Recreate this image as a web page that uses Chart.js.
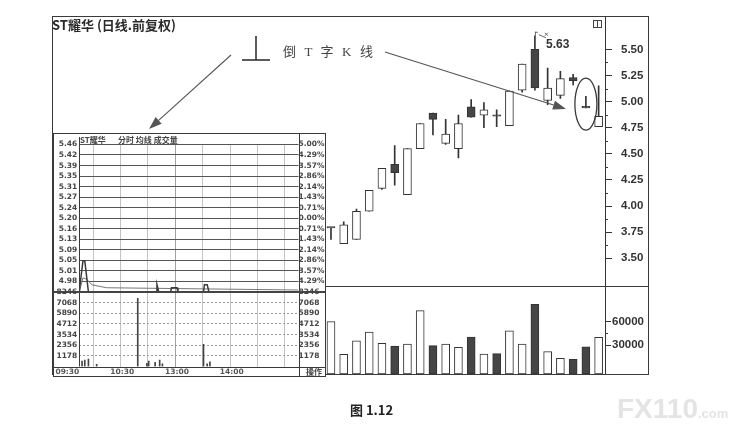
<!DOCTYPE html>
<html><head><meta charset="utf-8">
<script src="https://cdn.jsdelivr.net/npm/chart.js@4/dist/chart.umd.min.js"></script>
<style>
html,body{margin:0;padding:0;background:#fff;}
#wrap{position:relative;width:742px;height:432px;overflow:hidden;background:#fff;}
#main{position:absolute;left:0;top:0;}
#inset{position:absolute;left:53px;top:133px;background:#fff;}
.t{position:absolute;white-space:nowrap;color:#333;z-index:5;}
</style></head><body>
<div id="wrap">
<canvas id="main" width="742" height="432"></canvas>
<canvas id="inset" width="273" height="244"></canvas>
<div class="t" style="left:52px;top:17px;font:bold 13px/16px 'Noto Sans CJK SC';color:#2a2a2a;">ST耀华 (日线.前复权)</div>
<div class="t" style="left:283px;top:43px;font:13px/17px 'Liberation Serif','Noto Sans CJK SC';letter-spacing:2.6px;color:#444;">倒 T 字 K 线</div>
<div class="t" style="left:546px;top:36px;font:bold 12px/16px 'Liberation Sans';color:#333;">5.63</div>
<div class="t" style="left:80px;top:134px;font:bold 8px/11px 'Noto Sans CJK SC';color:#444;">ST耀华</div>
<div class="t" style="left:118px;top:134px;font:bold 8px/11px 'Noto Sans CJK SC';color:#444;">分时 均线 成交量</div>
<div class="t" style="left:306px;top:366px;font:bold 8px/11px 'Noto Sans CJK SC';color:#444;">操作</div>
<div class="t" style="left:350px;top:402px;font:bold 13px/16px 'Noto Sans CJK SC','Liberation Sans';color:#222;">图 1.12</div>
<div class="t" style="left:617px;top:394px;font:bold 28px/30px 'Liberation Sans';color:#e4e4e4;">FX110<span style="font-size:13px;">.com</span></div>
</div>
<script>
// ---------- main daily chart data ----------
const DAYS   = ['D1','D2','D3','D4','D5','D6','D7','D8','D9','D10','D11','D12','D13','D14','D15','D16','D17','D18','D19','D20','D21','D22'];
const OPEN   = [3.79,3.64,3.68,3.95,4.17,4.40,4.11,4.55,4.89,4.60,4.55,4.95,4.87,4.87,4.77,5.11,5.50,5.01,5.06,5.23,4.94,4.76];
const CLOSE  = [3.79,3.82,3.95,4.15,4.36,4.32,4.55,4.79,4.83,4.69,4.79,4.85,4.92,4.86,5.10,5.36,5.13,5.13,5.22,5.20,4.94,4.86];
const HIGH   = [3.79,3.85,3.97,4.15,4.36,4.58,4.55,4.79,4.89,4.83,4.87,5.02,4.99,4.92,5.10,5.36,5.63,5.32,5.29,5.26,5.05,5.15];
const LOW    = [3.68,3.64,3.68,3.95,4.16,4.20,4.11,4.55,4.68,4.59,4.46,4.85,4.75,4.76,4.77,5.09,5.11,4.97,5.03,5.16,4.94,4.76];
const VOLUME = [60000,18000,35500,46700,32200,28700,31300,74200,29100,31300,27000,40300,18400,18800,48400,31300,82400,21400,12900,11600,27800,39900];
const PRICE_TICKS = [3.50,3.75,4.00,4.25,4.50,4.75,5.00,5.25,5.50];
const PRICE_MINOR = [3.625,3.875,4.125,4.375,4.625,4.875,5.125,5.375];
const VOL_TICKS = [30000,60000];
const VOL_MINOR = [45000];
const SIGNAL_DAY = 20;   // 倒T字K线

// ---------- intraday inset data ----------
const PREV_CLOSE = 5.20;
const PCT_STEPS = [5.00,4.29,3.57,2.86,2.14,1.43,0.71,0.00,-0.71,-1.43,-2.14,-2.86,-3.57,-4.29];
const PRICE_LABELS = ['5.46','5.42','5.39','5.35','5.31','5.27','5.24','5.20','5.16','5.13','5.09','5.05','5.01','4.98'];
const PCT_LABELS = ['5.00%','4.29%','3.57%','2.86%','2.14%','1.43%','0.71%','0.00%','0.71%','1.43%','2.14%','2.86%','3.57%','4.29%'];
const IVOL_TICKS = [8246,7068,5890,4712,3534,2356,1178];
const TIME_GRID = [0,30,60,90,120,150,180,210,240];
const TIME_TICKS = [0,60,120,180];
const TIME_LABELS = ['09:30','10:30','13:00','14:00'];
const LINE_MINUTE = [0,1,4,6,10,84,85,87,100,101,107,108,136,137,140,142,240];
const LINE_PRICE  = [4.94,4.97,5.05,5.05,4.94,4.94,4.966,4.94,4.94,4.955,4.955,4.94,4.94,4.966,4.966,4.94,4.94];
const AVG_MINUTE  = [0,4,8,14,30,240];
const AVG_PRICE   = [4.94,4.99,4.985,4.965,4.955,4.947];
const IVOL_MINUTE = [3,6,10,19,64,74,76,83,88,91,136,140,143];
const IVOL_VALUE  = [610,720,830,240,7550,350,610,460,720,300,2460,300,530];

const DARK = '#454545', EDGE = '#333';
const isDown = i => CLOSE[i] <= OPEN[i];

function arrow(ctx,x1,y1,x2,y2){
  const a=Math.atan2(y2-y1,x2-x1), L=13, W=4.5;
  const bx=x2-L*Math.cos(a), by=y2-L*Math.sin(a);
  ctx.beginPath();ctx.moveTo(x1,y1);ctx.lineTo(bx,by);ctx.stroke();
  ctx.beginPath();ctx.moveTo(x2,y2);
  ctx.lineTo(bx+W*Math.sin(a),by-W*Math.cos(a));
  ctx.lineTo(bx-W*Math.sin(a),by+W*Math.cos(a));
  ctx.closePath();ctx.fill();
}
function seg(ctx,x1,y1,x2,y2){ctx.beginPath();ctx.moveTo(x1,y1);ctx.lineTo(x2,y2);ctx.stroke();}

const mainDecor = {
  id:'mainDecor',
  afterDraw(chart){
    const {ctx} = chart; const {x,yP,yV} = chart.scales;
    ctx.save();
    ctx.strokeStyle='#3a3a3a'; ctx.fillStyle='#3a3a3a'; ctx.lineWidth=1;
    ctx.strokeRect(52.5,16.5,596,358);
    const sy=Math.round(yV.top)+0.5; seg(ctx,52,sy,648,sy);
    PRICE_MINOR.forEach(v=>{const y=Math.round(yP.getPixelForValue(v))+0.5; seg(ctx,yP.left,y,yP.left+3,y);});
    VOL_MINOR.forEach(v=>{const y=Math.round(yV.getPixelForValue(v))+0.5; seg(ctx,yV.left,y,yV.left+3,y);});
    const ex=x.getPixelForValue(SIGNAL_DAY), ey=yP.getPixelForValue((HIGH[SIGNAL_DAY]+LOW[SIGNAL_DAY])/2)+2;
    ctx.lineWidth=1.3; ctx.beginPath(); ctx.ellipse(ex,ey,11,26,0,0,Math.PI*2); ctx.stroke();
    ctx.lineWidth=1.1; ctx.strokeStyle='#555'; ctx.fillStyle='#555';
    arrow(ctx,231,55,149,129);
    arrow(ctx,385,52,566,109);
    ctx.strokeStyle='#333'; ctx.lineWidth=1.6;
    seg(ctx,256,36,256,60); seg(ctx,242,60,270,60);
    const imax=HIGH.indexOf(Math.max(...HIGH));
    const hx=x.getPixelForValue(imax), hy=yP.getPixelForValue(HIGH[imax]);
    ctx.lineWidth=0.8; ctx.strokeStyle='#444';
    seg(ctx,hx+0.5,hy,hx+0.5,hy-4); seg(ctx,hx+0.5,hy-3.5,hx+3,hy-3.5);
    seg(ctx,hx+4,hy-1,hx+11,hy+2);
    seg(ctx,hx+10,hy-3,hx+13,hy); seg(ctx,hx+13,hy-3,hx+10,hy);
    ctx.lineWidth=1; ctx.strokeStyle='#444';
    ctx.strokeRect(593.5,20.5,8,7); seg(ctx,597.5,20.5,597.5,27.5);
    ctx.restore();
  }
};

new Chart(document.getElementById('main'),{
  type:'bar',
  data:{labels:DAYS,datasets:[
    {label:'影线',data:LOW.map((l,i)=>[l,HIGH[i]]),yAxisID:'yP',barThickness:1,backgroundColor:EDGE,grouped:false,order:2},
    {label:'K线',data:OPEN.map((o,i)=>[o,CLOSE[i]]),yAxisID:'yP',barThickness:8,minBarLength:1.5,
     backgroundColor:c=>isDown(c.dataIndex)?DARK:'#fff',borderColor:EDGE,borderWidth:1,borderSkipped:false,grouped:false,order:1},
    {label:'成交量',data:VOLUME,yAxisID:'yV',base:-7340,barThickness:8,
     backgroundColor:c=>isDown(c.dataIndex)&&!(c.dataIndex===0)?DARK:'#fff',borderColor:EDGE,borderWidth:1,borderSkipped:false,grouped:false,order:1}
  ]},
  options:{
    responsive:false,animation:false,
    layout:{padding:{left:324.6,right:94,top:16,bottom:58}},
    plugins:{legend:{display:false},tooltip:{enabled:false}},
    scales:{
      x:{type:'category',display:false,offset:true,grid:{display:false}},
      yP:{type:'linear',position:'right',stack:'k',stackWeight:270,min:3.235,max:5.819,
        afterBuildTicks:s=>{s.ticks=PRICE_TICKS.map(v=>({value:v}));},
        afterFit:s=>{s.width=43;},
        grid:{drawOnChartArea:false,drawTicks:true,tickLength:7,tickColor:'#333',tickWidth:1},
        border:{display:true,color:'#333',width:1},
        ticks:{padding:9,color:'#333',autoSkip:false,font:{family:'Liberation Sans',weight:'bold',size:11.5},callback:v=>Number(v).toFixed(2)}},
      yV:{type:'linear',position:'right',stack:'k',stackWeight:88,min:-7340,max:105970,
        afterBuildTicks:s=>{s.ticks=VOL_TICKS.map(v=>({value:v}));},
        afterFit:s=>{s.width=43;},
        grid:{drawOnChartArea:false,drawTicks:true,tickLength:6,tickColor:'#333',tickWidth:1},
        border:{display:true,color:'#333',width:1},
        ticks:{padding:1,color:'#333',autoSkip:false,font:{family:'Liberation Sans',weight:'bold',size:11.5},callback:v=>String(v)}}
    }
  },
  plugins:[mainDecor]
});

// ---------- inset ----------
const PCT_VALUES = PCT_STEPS.map(p=>PREV_CLOSE*(1+p/100));
const insetDecor = {
  id:'insetDecor',
  afterDraw(chart){
    const {ctx}=chart; const {ix,iyV}=chart.scales;
    ctx.save(); ctx.strokeStyle='#3a3a3a'; ctx.lineWidth=1;
    ctx.strokeRect(0.5,0.5,272,243);
    const l=Math.round(ix.left)+0.5, r=Math.round(ix.right)+0.5;
    seg(ctx,l,4,l,iyV.bottom); seg(ctx,r,0,r,244);
    const b=Math.round(iyV.bottom)+0.5; seg(ctx,0,b,273,b);
    ctx.lineWidth=2; ctx.strokeStyle='#444';
    seg(ctx,ix.left-26,iyV.top,ix.right+27,iyV.top);
    ctx.restore();
  }
};
const tickFont={family:'DejaVu Sans',weight:'bold',size:7.5};
new Chart(document.getElementById('inset'),{
  type:'line',
  data:{datasets:[
    {label:'分时',data:LINE_MINUTE.map((m,i)=>({x:m,y:LINE_PRICE[i]})),yAxisID:'iyP',xAxisID:'ix',borderColor:'#3a3a3a',borderWidth:1.5,pointRadius:0,tension:0},
    {label:'均线',data:AVG_MINUTE.map((m,i)=>({x:m,y:AVG_PRICE[i]})),yAxisID:'iyP',xAxisID:'ix',borderColor:'#777',borderWidth:1,pointRadius:0,tension:0},
    {type:'bar',label:'成交量',data:IVOL_MINUTE.map((m,i)=>({x:m,y:IVOL_VALUE[i]})),yAxisID:'iyV',xAxisID:'ix',barThickness:1,backgroundColor:'#444'}
  ]},
  options:{
    responsive:false,animation:false,
    layout:{padding:{top:11.5,left:0,right:0,bottom:0}},
    plugins:{legend:{display:false},tooltip:{enabled:false}},
    scales:{
      ix:{type:'linear',position:'bottom',min:0,max:240,offset:false,
        afterBuildTicks:s=>{s.ticks=TIME_GRID.map(v=>({value:v}));},
        afterFit:s=>{s.height=10.5;},
        grid:{drawTicks:false,color:c=>c.tick&&c.tick.value===120?'#444':'#888',lineWidth:1},
        border:{display:false,dash:[1,1]},
        ticks:{align:'end',padding:1,maxRotation:0,autoSkip:false,color:'#555',font:tickFont,
          callback:v=>{const k=TIME_TICKS.indexOf(v);return k<0?'':TIME_LABELS[k];}}},
      iyV:{type:'linear',position:'left',stack:'L',stackWeight:74.5,min:0,max:IVOL_TICKS[0],
        afterBuildTicks:s=>{s.ticks=IVOL_TICKS.map(v=>({value:v}));},
        afterFit:s=>{s.width=26.3;},
        grid:{drawTicks:false,color:'#999',lineWidth:1},
        border:{display:false,dash:[2,2]},
        ticks:{padding:2,autoSkip:false,color:'#444',font:tickFont,callback:(v,i)=>String(IVOL_TICKS[i])}},
      iyP:{type:'linear',position:'left',stack:'L',stackWeight:147.5,min:PREV_CLOSE*0.95,max:PREV_CLOSE*1.05,
        afterBuildTicks:s=>{s.ticks=PCT_VALUES.map(v=>({value:v}));},
        afterFit:s=>{s.width=26.3;},
        grid:{drawTicks:false,color:'#555',lineWidth:1},
        border:{display:false},
        ticks:{padding:2,autoSkip:false,color:'#444',font:tickFont,callback:(v,i)=>PRICE_LABELS[i]}},
      iyPct:{type:'linear',position:'right',stack:'R',stackWeight:147.5,min:PREV_CLOSE*0.95,max:PREV_CLOSE*1.05,
        afterBuildTicks:s=>{s.ticks=PCT_VALUES.map(v=>({value:v}));},
        afterFit:s=>{s.width=27.5;},
        grid:{drawOnChartArea:false,drawTicks:false},
        border:{display:false},
        ticks:{padding:0,autoSkip:false,color:'#444',font:tickFont,callback:(v,i)=>PCT_LABELS[i]}},
      iyV2:{type:'linear',position:'right',stack:'R',stackWeight:74.5,min:0,max:IVOL_TICKS[0],
        afterBuildTicks:s=>{s.ticks=IVOL_TICKS.map(v=>({value:v}));},
        afterFit:s=>{s.width=27.5;},
        grid:{drawOnChartArea:false,drawTicks:false},
        border:{display:false},
        ticks:{padding:0,autoSkip:false,color:'#444',font:tickFont,callback:(v,i)=>String(IVOL_TICKS[i])}}
    }
  },
  plugins:[insetDecor]
});
</script>
</body></html>
